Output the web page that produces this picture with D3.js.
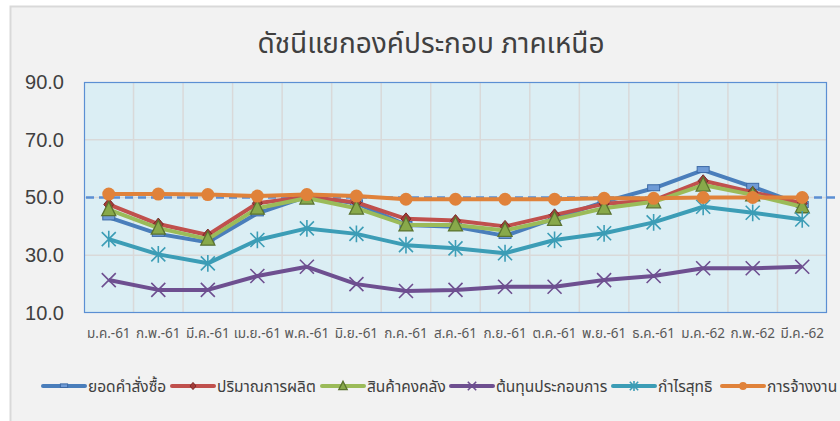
<!DOCTYPE html>
<html>
<head>
<meta charset="utf-8">
<script src="https://cdn.jsdelivr.net/npm/d3@7"></script>
<style>
html,body{margin:0;padding:0;background:#fff;}
svg{display:block;}
text{font-family:"Noto Sans","Noto Sans Thai",sans-serif;}
</style>
</head>
<body>
<svg id="chart" width="840" height="421"></svg>
<script>
const title = "ดัชนีแยกองค์ประกอบ ภาคเหนือ";
const months = ["ม.ค.-61","ก.พ.-61","มี.ค.-61","เม.ย.-61","พ.ค.-61","มิ.ย.-61","ก.ค.-61","ส.ค.-61","ก.ย.-61","ต.ค.-61","พ.ย.-61","ธ.ค.-61","ม.ค.-62","ก.พ.-62","มี.ค.-62"];
const yTicks = [10, 30, 50, 70, 90];
const referenceLevel = 50;

const seriesNames = ["ยอดคำสั่งซื้อ","ปริมาณการผลิต","สินค้าคงคลัง","ต้นทุนประกอบการ","กำไรสุทธิ","การจ้างงาน"];
const orders     = [43.1, 37.4, 34.5, 44.5, 50.3, 48.0, 40.5, 39.9, 36.7, 42.8, 48.5, 53.2, 59.5, 53.7, 47.4];
const production = [47.6, 40.8, 37.0, 48.0, 50.3, 48.3, 42.6, 42.0, 40.0, 44.0, 47.8, 49.0, 55.8, 51.8, 48.0];
const inventory  = [45.8, 39.4, 35.6, 46.3, 49.8, 46.3, 40.5, 40.5, 38.6, 42.4, 46.3, 48.5, 54.3, 50.9, 46.8];
const costs      = [21.4, 18.0, 18.0, 22.8, 26.0, 20.0, 17.6, 18.0, 19.1, 19.1, 21.4, 22.8, 25.5, 25.5, 26.0];
const profit     = [35.6, 30.3, 27.2, 35.3, 39.3, 37.4, 33.5, 32.4, 30.7, 35.3, 37.6, 41.4, 46.8, 44.7, 42.4];
const employment = [51.2, 51.2, 51.0, 50.5, 51.0, 50.5, 49.4, 49.4, 49.4, 49.4, 49.7, 49.7, 50.0, 50.0, 50.0];

const seriesValues = [orders, production, inventory, costs, profit, employment];
const colors = ["#4a7ebb","#c0504d","#9bbb59","#6e4f90","#3c9db6","#e0823a"];
const markers = ["square","diamond","triangle","x","star","circle"];

const svg = d3.select("#chart");

// chart frame
svg.append("rect").attr("x",10.5).attr("y",6.5).attr("width",840).attr("height",420)
  .attr("fill","#f2f2f2").attr("stroke","#d9d9d9").attr("stroke-width",2);

svg.append("text").attr("x",431).attr("y",53).attr("text-anchor","middle")
  .attr("font-size",28).attr("fill","#404040").text(title);

const plot = {left:84, right:827, top:82, bottom:313};
const x = d3.scaleBand().domain(months).range([plot.left, plot.right]).padding(0);
const y = d3.scaleLinear().domain([10, 90]).range([plot.bottom, plot.top]);

svg.append("rect").attr("x",plot.left).attr("y",plot.top)
  .attr("width",plot.right-plot.left).attr("height",plot.bottom-plot.top)
  .attr("fill","#dbeef4");

// grid
const gx = svg.append("g");
gx.selectAll("line.v").data(months.slice(1)).enter().append("line")
  .attr("x1",d=>x(d)).attr("x2",d=>x(d)).attr("y1",plot.top).attr("y2",plot.bottom)
  .attr("stroke","#d9d9d9").attr("stroke-width",1.5);
gx.selectAll("line.h").data(yTicks.slice(1,-1)).enter().append("line")
  .attr("x1",plot.left).attr("x2",plot.right).attr("y1",d=>y(d)).attr("y2",d=>y(d))
  .attr("stroke","#d9d9d9").attr("stroke-width",1.5);

svg.append("rect").attr("x",plot.left+0.5).attr("y",plot.top+0.5)
  .attr("width",plot.right-plot.left-1).attr("height",plot.bottom-plot.top-1)
  .attr("fill","none").attr("stroke","#5b8fd3").attr("stroke-width",1.2);

// y axis
const yAxis = d3.axisLeft(y).tickValues(yTicks).tickFormat(d3.format(".1f")).tickSize(0).tickPadding(20);
const ya = svg.append("g").attr("transform",`translate(${plot.left},0)`).call(yAxis);
ya.select(".domain").remove();
ya.selectAll("text").attr("font-size",20).attr("fill","#404040")
  .style("font-family","'Liberation Sans','Noto Sans',sans-serif");

// x axis
const xAxis = d3.axisBottom(x).tickSize(0).tickPadding(15);
const xa = svg.append("g").attr("transform",`translate(0,${plot.bottom})`).call(xAxis);
xa.select(".domain").remove();
xa.selectAll("text").attr("font-size",13.5).attr("fill","#595959");

// reference dashed line
svg.append("line").attr("x1",plot.left+2).attr("x2",836)
  .attr("y1",y(referenceLevel)).attr("y2",y(referenceLevel))
  .attr("stroke","#5b8fd3").attr("stroke-width",2.5).attr("stroke-dasharray","8,5");

function drawMarker(g, type, color, cx, cy, scale){
  const s = scale||1;
  if(type==="square"){
    g.append("rect").attr("x",cx-6*s).attr("y",cy-3.5*s).attr("width",12*s).attr("height",6*s)
      .attr("fill","#6f9bd6").attr("stroke","#3d6aa6").attr("stroke-width",1);
  } else if(type==="diamond"){
    g.append("path").attr("d",`M${cx},${cy-6*s}L${cx+5*s},${cy}L${cx},${cy+6*s}L${cx-5*s},${cy}Z`)
      .attr("fill","#a33b38").attr("stroke","#7a2a28").attr("stroke-width",1);
  } else if(type==="triangle"){
    g.append("path").attr("d",`M${cx},${cy-8*s}L${cx+7*s},${cy+6*s}L${cx-7*s},${cy+6*s}Z`)
      .attr("fill","#88a94a").attr("stroke","#5b7330").attr("stroke-width",1.3);
  } else if(type==="x"){
    const r=7*s;
    g.append("path").attr("d",`M${cx-r},${cy-r}L${cx+r},${cy+r}M${cx-r},${cy+r}L${cx+r},${cy-r}`)
      .attr("stroke",color).attr("stroke-width",1.6).attr("fill","none");
  } else if(type==="star"){
    const r=7*s;
    g.append("path").attr("d",`M${cx-r},${cy-r}L${cx+r},${cy+r}M${cx-r},${cy+r}L${cx+r},${cy-r}M${cx},${cy-r*1.2}L${cx},${cy+r*1.2}`)
      .attr("stroke",color).attr("stroke-width",1.6).attr("fill","none");
  } else if(type==="circle"){
    g.append("circle").attr("cx",cx).attr("cy",cy).attr("r",6.5*s).attr("fill",color);
  }
}

const line = d3.line().x((d,i)=>x(months[i])+x.bandwidth()/2).y(d=>y(d));

seriesValues.forEach((vals,si)=>{
  const g = svg.append("g");
  g.append("path").datum(vals).attr("d",line).attr("fill","none")
    .attr("stroke",colors[si]).attr("stroke-width",4).attr("stroke-linejoin","round");
  vals.forEach((v,i)=>drawMarker(g, markers[si], colors[si], x(months[i])+x.bandwidth()/2, y(v)));
});

// legend
const legendStarts = [43, 172, 322, 451, 613, 722];
const lg = svg.append("g");
seriesNames.forEach((name,i)=>{
  const lx = legendStarts[i], ly = 386;
  lg.append("line").attr("x1",lx).attr("x2",lx+42).attr("y1",ly).attr("y2",ly)
    .attr("stroke",colors[i]).attr("stroke-width",4).attr("stroke-linecap","round");
  drawMarker(lg, markers[i], colors[i], lx+21, ly, 0.6);
  lg.append("text").attr("x",lx+45).attr("y",ly+5.5).attr("font-size",15.5).attr("fill","#404040").text(name);
});
</script>
</body>
</html>
